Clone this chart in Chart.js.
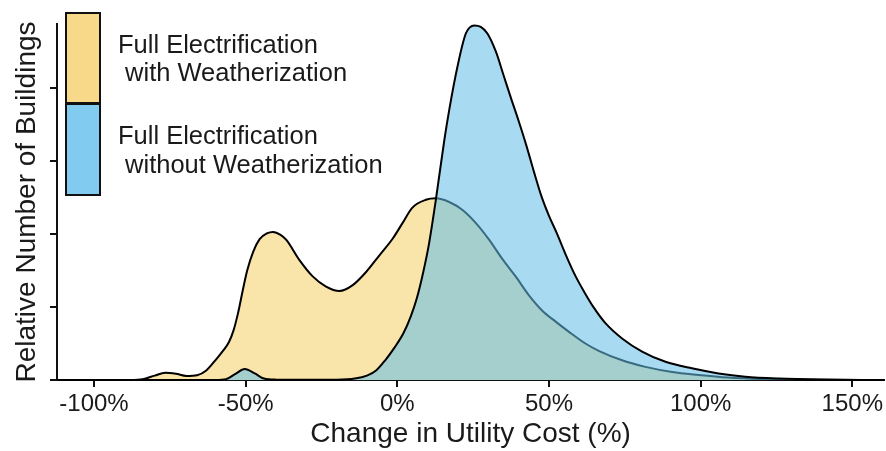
<!DOCTYPE html>
<html>
<head>
<meta charset="utf-8">
<script src="https://cdn.jsdelivr.net/npm/chart.js@4/dist/chart.umd.min.js"></script>
<style>
  html, body { margin: 0; padding: 0; background: #ffffff; }
  #wrap { width: 886px; height: 451px; }
</style>
</head>
<body>
<div id="wrap"><canvas id="c" width="886" height="451"></canvas></div>
<script>
// ---- Data ----
const seriesNames = ["Full Electrification with Weatherization", "Full Electrification without Weatherization"];
const legendLines = [["Full Electrification", " with Weatherization"], ["Full Electrification", " without Weatherization"]];

// Change in utility cost (%) for the "with weatherization" density curve
const withX = [-112, -88, -84, -80, -76.5, -73, -69.5, -66, -63, -60, -57.5, -55.5, -54, -52.5, -51, -49.5, -47.5, -45.4, -43, -41, -38.5, -36.6, -32.2, -27.9, -23.5, -19.1, -14.7, -10.3, -5.9, -1.5, 1.7, 4.9, 9.4, 12.7, 17.1, 21.5, 25.9, 30.3, 34.6, 39, 43.4, 47.8, 52.2, 56.6, 62, 66.4, 74.1, 81.8, 90.6, 99.3, 109, 120, 135, 160.5];
const withY = [0, 0, 0.01, 0.06, 0.10, 0.085, 0.055, 0.065, 0.13, 0.27, 0.40, 0.52, 0.68, 0.92, 1.22, 1.50, 1.76, 1.93, 2.01, 2.03, 1.99, 1.92, 1.64, 1.42, 1.28, 1.22, 1.30, 1.48, 1.71, 1.94, 2.15, 2.36, 2.47, 2.49, 2.44, 2.33, 2.15, 1.92, 1.66, 1.42, 1.16, 0.95, 0.80, 0.66, 0.50, 0.40, 0.27, 0.18, 0.11, 0.07, 0.035, 0.015, 0.005, 0];

// "without weatherization" density curve
const withoutX = [-112, -60, -56.5, -53.5, -50.3, -47, -44, -40, -30, -20, -14, -10, -7, -4, -1, 2, 4.5, 6.5, 8.5, 10.5, 12.7, 15.5, 17.1, 19.8, 22.6, 25.4, 27.5, 29.7, 32.5, 35, 37.5, 40, 42.5, 45, 47.5, 50, 52.5, 55.5, 58.8, 62, 64.5, 68.6, 74.1, 80.7, 88.4, 97.1, 105.9, 114.7, 125.7, 140, 160.5];
const withoutY = [0, 0, 0.01, 0.08, 0.15, 0.09, 0.02, 0.005, 0.003, 0.005, 0.02, 0.06, 0.13, 0.27, 0.44, 0.64, 0.88, 1.13, 1.47, 1.88, 2.47, 3.29, 3.70, 4.29, 4.75, 4.86, 4.84, 4.75, 4.50, 4.18, 3.86, 3.55, 3.22, 2.86, 2.52, 2.25, 2.02, 1.72, 1.42, 1.18, 1.01, 0.78, 0.57, 0.39, 0.25, 0.16, 0.09, 0.045, 0.02, 0.006, 0];

const xTicks = [-100, -50, 0, 50, 100, 150];
const yTicks = [0, 1, 2, 3, 4];
const xTitle = "Change in Utility Cost (%)";
const yTitle = "Relative Number of Buildings";

// ---- Styles ----
const FONT = "'Liberation Sans', Arial, Helvetica, sans-serif";
const TEXT = '#1a1a1a';
const yellowFill = 'rgb(249,228,169)';
const blueFill = 'rgba(100,190,232,0.56)';
const legendFills = ['#f8d98a', '#80cbef'];

const toPts = (xs, ys) => xs.map((x, i) => ({ x: x, y: ys[i] }));

const boxLegend = {
  id: 'boxLegend',
  afterDraw(chart) {
    const ctx = chart.ctx;
    ctx.save();
    const boxes = [{ x: 66, y: 13, w: 34, h: 90 }, { x: 66, y: 104, w: 34, h: 91 }];
    const baselines = [[53, 81], [144, 172.5]];
    boxes.forEach((b, i) => {
      ctx.fillStyle = legendFills[i];
      ctx.fillRect(b.x, b.y, b.w, b.h);
      ctx.lineWidth = 2;
      ctx.strokeStyle = '#111';
      ctx.strokeRect(b.x, b.y, b.w, b.h);
      ctx.fillStyle = TEXT;
      ctx.font = "25.5px " + FONT;
      ctx.textAlign = 'left';
      ctx.textBaseline = 'alphabetic';
      legendLines[i].forEach((line, j) => {
        ctx.fillText(line, 118, baselines[i][j]);
      });
    });
    ctx.restore();
  }
};

new Chart(document.getElementById('c'), {
  type: 'line',
  data: {
    datasets: [
      {
        label: seriesNames[0],
        data: toPts(withX, withY),
        borderColor: '#000',
        borderWidth: 2,
        backgroundColor: yellowFill,
        fill: 'origin',
        pointRadius: 0,
        cubicInterpolationMode: 'monotone',
        order: 2,
        clip: 6
      },
      {
        label: seriesNames[1],
        data: toPts(withoutX, withoutY),
        borderColor: '#000',
        borderWidth: 2,
        backgroundColor: blueFill,
        fill: 'origin',
        pointRadius: 0,
        cubicInterpolationMode: 'monotone',
        order: 1,
        clip: 6
      }
    ]
  },
  options: {
    responsive: false,
    animation: false,
    events: [],
    layout: { padding: { top: 24, right: 0, left: 0, bottom: 0 } },
    plugins: {
      legend: { display: false },
      tooltip: { enabled: false },
      title: { display: false }
    },
    scales: {
      x: {
        type: 'linear',
        min: -112.2,
        max: 160.5,
        afterBuildTicks: (s) => { s.ticks = xTicks.map(v => ({ value: v })); },
        afterFit: (s) => { s.height = 71; },
        ticks: {
          callback: (v) => v + '%',
          font: { family: FONT, size: 24 },
          color: TEXT,
          padding: 3,
          maxRotation: 0,
          autoSkip: false
        },
        grid: { drawOnChartArea: false, drawTicks: true, tickLength: 7, color: '#111', lineWidth: 2 },
        border: { display: true, color: '#111', width: 2 },
        title: {
          display: true,
          text: xTitle,
          font: { family: FONT, size: 28, lineHeight: 1.2 },
          color: TEXT,
          padding: { top: 0, bottom: 0 }
        }
      },
      y: {
        type: 'linear',
        min: 0,
        max: 4.88,
        afterBuildTicks: (s) => { s.ticks = yTicks.map(v => ({ value: v })); },
        afterFit: (s) => { s.width = 57; },
        ticks: { display: false },
        grid: { drawOnChartArea: false, drawTicks: true, tickLength: 7, color: '#111', lineWidth: 2 },
        border: { display: true, color: '#111', width: 2 },
        title: {
          display: true,
          text: yTitle,
          font: { family: FONT, size: 28, lineHeight: 1.2 },
          color: TEXT,
          padding: { top: 10, bottom: 0 }
        }
      }
    }
  },
  plugins: [boxLegend]
});
</script>
</body>
</html>
